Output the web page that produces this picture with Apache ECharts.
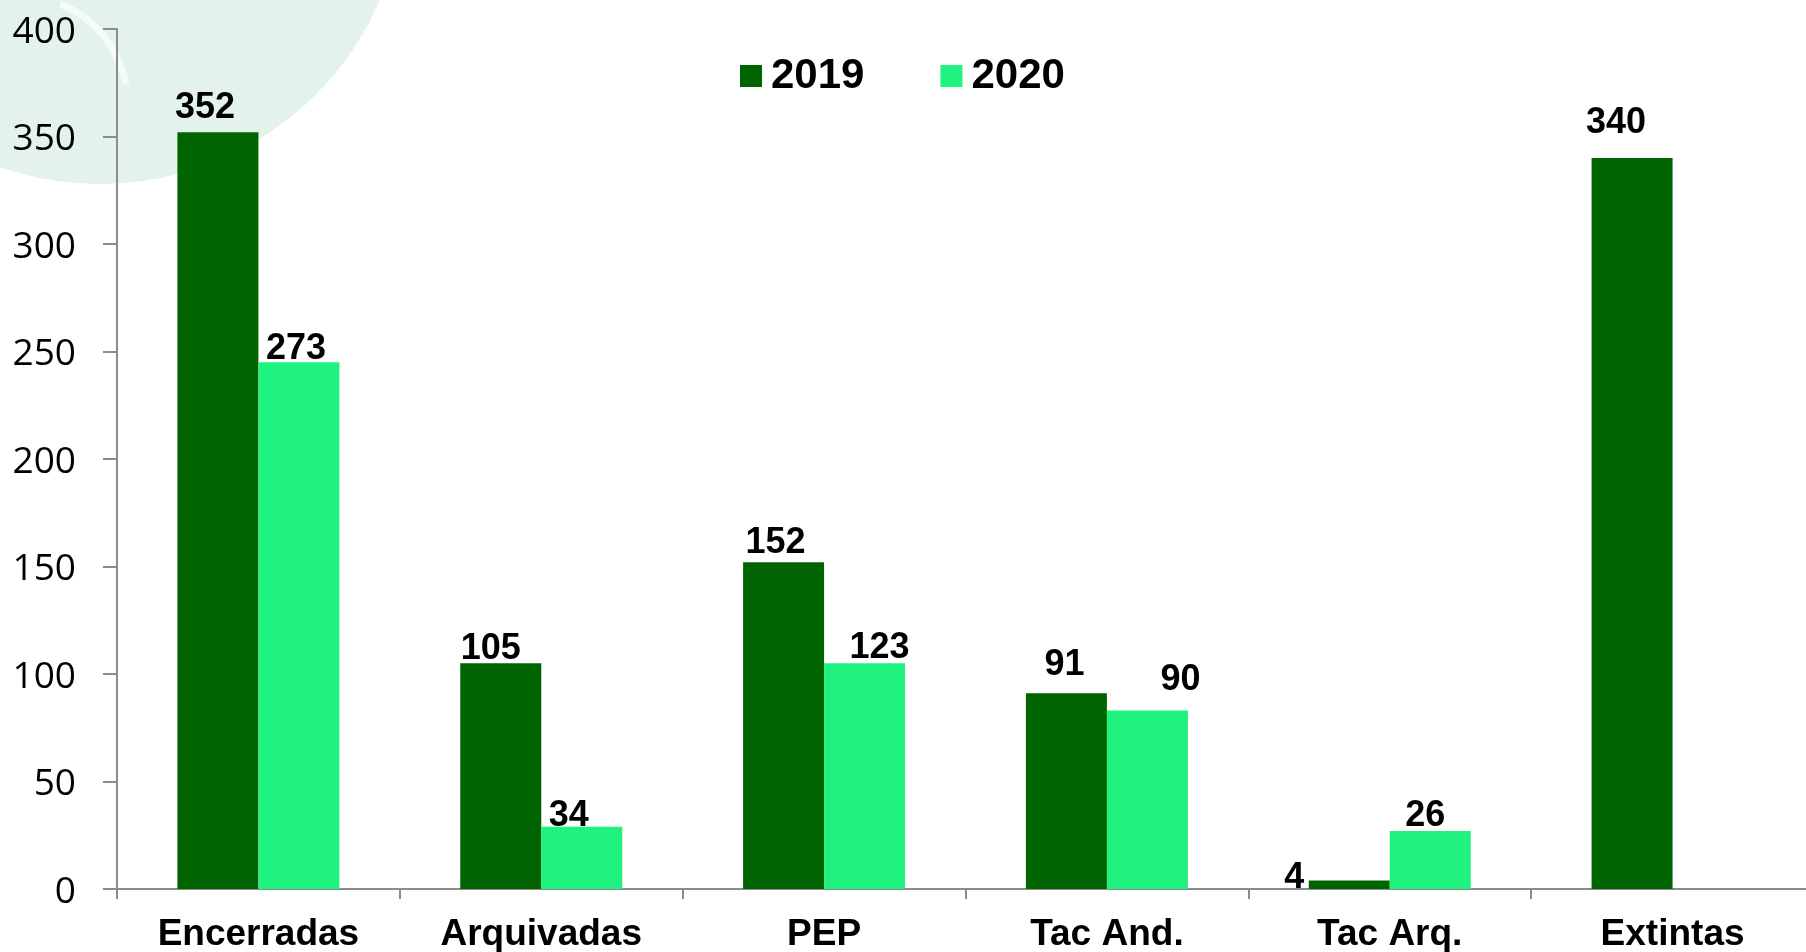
<!DOCTYPE html>
<html>
<head>
<meta charset="utf-8">
<script src="https://cdn.jsdelivr.net/npm/echarts@6/dist/echarts.min.js"></script>
<style>
    html, body { margin: 0; padding: 0; background: #fff; }
    #chart { width: 1806px; height: 952px; }
</style>
</head>
<body>
<div id="chart"></div>
<script>
    // categories and values
    var categories = ['Encerradas', 'Arquivadas', 'PEP', 'Tac And.', 'Tac Arq.', 'Extintas'];
    var seriesNames = ['2019', '2020'];
    // bar heights as drawn
    var bars2019 = [352, 105, 152, 91, 4, 340];
    var bars2020 = [245, 29, 105, 83, 27, null];
    // numbers printed above the bars
    var labels2019 = [352, 105, 152, 91, 4, 340];
    var labels2020 = [273, 34, 123, 90, 26, null];
    var yTicks = [0, 50, 100, 150, 200, 250, 300, 350, 400];

    // label nudges (style only)
    var nudge2019 = [[-13, -9], [-10, 1], [-8, -4], [-2, -13], [-55, 13], [-16, -20]];
    var nudge2020 = [[-3, 2], [-13, 4], [15, 0], [33, -15], [-5, 0], [0, 0]];

    var boldFont = '"Liberation Sans", Arial, sans-serif';

    function buildData(vals, labs, nudges) {
        return vals.map(function (v, i) {
            if (v === null) return null;
            return {
                value: v,
                label: { formatter: String(labs[i]), offset: nudges[i] }
            };
        });
    }

    var myChart = echarts.init(document.getElementById('chart'));
    var option = {
        backgroundColor: '#fff',
        animation: false,
        color: ['#006400', '#20F280'],
        graphic: [
            {
                type: 'circle',
                z: -10,
                shape: { cx: 100, cy: -121, r: 305 },
                style: { fill: '#e3f3ec' }
            },
            {
                type: 'bezierCurve',
                z: -9,
                shape: { x1: 60, y1: 4, x2: 126, y2: 84, cpx1: 100, cpy1: 20, cpx2: 118, cpy2: 50 },
                style: { stroke: '#f5fbf8', lineWidth: 7, fill: null }
            }
        ],
        legend: {
            left: 735,
            top: 50,
            icon: 'rect',
            itemWidth: 22,
            itemHeight: 22,
            itemGap: 76,
            data: seriesNames,
            textStyle: {
                fontFamily: boldFont,
                fontWeight: 'bold',
                fontSize: 42,
                color: '#000',
                padding: [0, 0, 0, 4]
            }
        },
        grid: {
            left: 117,
            width: 1697,
            top: 29,
            bottom: 63,
            containLabel: false,
            outerBoundsMode: 'none'
        },
        xAxis: {
            type: 'category',
            data: categories,
            axisLine: { lineStyle: { color: '#8c8c8c', width: 2 } },
            axisTick: { show: true, length: 10, lineStyle: { color: '#8c8c8c', width: 2 } },
            axisLabel: {
                margin: 27,
                fontFamily: boldFont,
                fontWeight: 'bold',
                fontSize: 37,
                color: '#000'
            }
        },
        yAxis: {
            type: 'value',
            min: yTicks[0],
            max: yTicks[yTicks.length - 1],
            interval: yTicks[1] - yTicks[0],
            axisLine: { show: true, lineStyle: { color: '#8c8c8c', width: 2 } },
            axisTick: { show: true, length: 14, lineStyle: { color: '#8c8c8c', width: 2 } },
            splitLine: { show: false },
            axisLabel: {
                margin: 41,
                formatter: '{t|{value}}',
                rich: {
                    t: {
                        fontFamily: '"Open Sans", sans-serif',
                        fontSize: 37,
                        color: '#000',
                        padding: [6, 0, 0, 0]
                    }
                }
            }
        },
        series: [
            {
                name: seriesNames[0],
                type: 'bar',
                barWidth: 81,
                barGap: '0%',
                label: {
                    show: true,
                    position: 'top',
                    distance: -3,
                    fontFamily: boldFont,
                    fontWeight: 'bold',
                    fontSize: 36,
                    color: '#000'
                },
                data: buildData(bars2019, labels2019, nudge2019)
            },
            {
                name: seriesNames[1],
                type: 'bar',
                barWidth: 81,
                barGap: '0%',
                label: {
                    show: true,
                    position: 'top',
                    distance: -3,
                    fontFamily: boldFont,
                    fontWeight: 'bold',
                    fontSize: 36,
                    color: '#000'
                },
                data: buildData(bars2020, labels2020, nudge2020)
            }
        ]
    };
    myChart.setOption(option);
</script>
</body>
</html>
